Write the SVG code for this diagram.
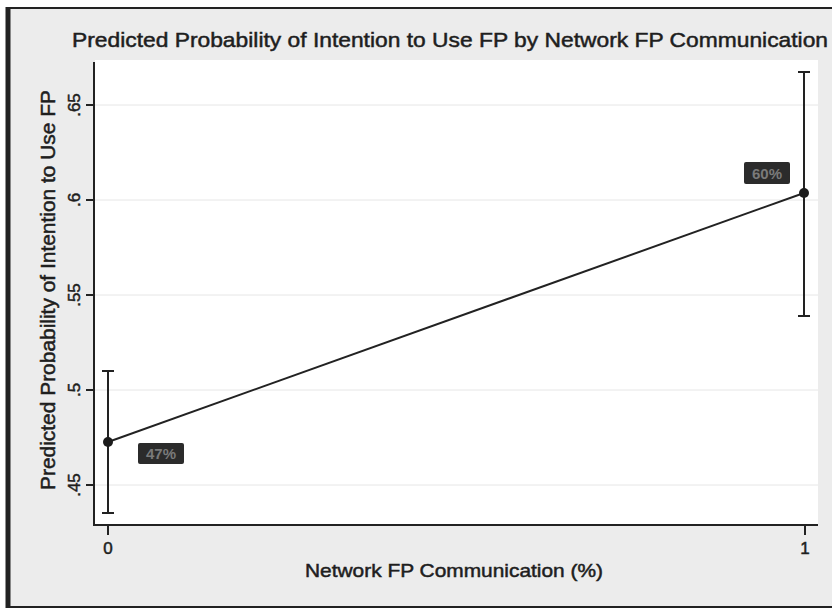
<svg xmlns="http://www.w3.org/2000/svg" width="832" height="611" viewBox="0 0 832 611">
  <style>
    .txt { font-family: "Liberation Sans", Arial, sans-serif; fill: #1e1e1e; stroke: #1e1e1e; stroke-width: 0.5; }
    .ax { stroke: #222; stroke-width: 2; fill: none; }
    .grid { stroke: #e6e6e6; stroke-width: 1; }
    .err { stroke: #222; stroke-width: 2; fill: none; }
    .pt { fill: #1c1c1c; }
    .lblbox { fill: #2b2b2b; }
    .lbl { font-family: "Liberation Sans", Arial, sans-serif; font-size: 15px; fill: #7a7a7a; font-weight: bold; }
  </style>
  <!-- background -->
  <rect x="0" y="0" width="832" height="611" fill="#ffffff"/>
  <rect x="8" y="8" width="824" height="599" fill="#ececec"/>
  <!-- frame -->
  <line x1="8" y1="8" x2="832" y2="8" stroke="#222" stroke-width="2"/>
  <line x1="8" y1="607" x2="832" y2="607" stroke="#222" stroke-width="2"/>
  <line x1="8" y1="7" x2="8" y2="608" stroke="#222" stroke-width="5"/>
  <!-- plot region -->
  <rect x="95" y="60" width="723" height="465" fill="#ffffff"/>
  <g id="gridlines">
    <line class="grid" x1="95" y1="105" x2="818" y2="105"/>
    <line class="grid" x1="95" y1="200" x2="818" y2="200"/>
    <line class="grid" x1="95" y1="295" x2="818" y2="295"/>
    <line class="grid" x1="95" y1="390" x2="818" y2="390"/>
    <line class="grid" x1="95" y1="485" x2="818" y2="485"/>
  </g>
  <!-- title -->
  <text class="txt" x="72" y="47" font-size="21" textLength="756" lengthAdjust="spacingAndGlyphs">Predicted Probability of Intention to Use FP by Network FP Communication</text>
  <!-- axes -->
  <g id="y-axis">
    <line class="ax" x1="94" y1="62" x2="94" y2="526"/>
    <line class="ax" x1="86" y1="105" x2="94" y2="105"/>
    <line class="ax" x1="86" y1="200" x2="94" y2="200"/>
    <line class="ax" x1="86" y1="295" x2="94" y2="295"/>
    <line class="ax" x1="86" y1="390" x2="94" y2="390"/>
    <line class="ax" x1="86" y1="485" x2="94" y2="485"/>
    <text class="txt" font-size="17" text-anchor="middle" transform="translate(80,105) rotate(-90)">.65</text>
    <text class="txt" font-size="17" text-anchor="middle" transform="translate(80,200) rotate(-90)">.6</text>
    <text class="txt" font-size="17" text-anchor="middle" transform="translate(80,295) rotate(-90)">.55</text>
    <text class="txt" font-size="17" text-anchor="middle" transform="translate(80,390) rotate(-90)">.5</text>
    <text class="txt" font-size="17" text-anchor="middle" transform="translate(80,485) rotate(-90)">.45</text>
    <text class="txt" font-size="20" text-anchor="middle" textLength="400" lengthAdjust="spacingAndGlyphs" transform="translate(55,290) rotate(-90)">Predicted Probability of Intention to Use FP</text>
  </g>
  <g id="x-axis">
    <line class="ax" x1="93" y1="525" x2="818" y2="525"/>
    <line class="ax" x1="108" y1="525" x2="108" y2="535"/>
    <line class="ax" x1="805" y1="525" x2="805" y2="535"/>
    <text class="txt" font-size="17" text-anchor="middle" x="108" y="554">0</text>
    <text class="txt" font-size="17" text-anchor="middle" x="805" y="554">1</text>
    <text class="txt" font-size="19" x="305" y="577" textLength="298" lengthAdjust="spacingAndGlyphs">Network FP Communication (%)</text>
  </g>
  <!-- connectors -->
  <g id="connectors">
    <line x1="108" y1="442" x2="804" y2="193" stroke="#222" stroke-width="2"/>
  </g>
  <!-- nodes -->
  <g id="point-0">
    <line class="err" x1="108" y1="371" x2="108" y2="513"/>
    <line class="err" x1="102" y1="371" x2="114" y2="371"/>
    <line class="err" x1="102" y1="513" x2="114" y2="513"/>
    <circle class="pt" cx="108" cy="442" r="5"/>
    <rect class="lblbox" x="138" y="443" width="46" height="21" rx="2"/>
    <text class="lbl" x="161" y="459" text-anchor="middle">47%</text>
  </g>
  <g id="point-1">
    <line class="err" x1="804" y1="72" x2="804" y2="316"/>
    <line class="err" x1="798" y1="72" x2="810" y2="72"/>
    <line class="err" x1="798" y1="316" x2="810" y2="316"/>
    <circle class="pt" cx="804" cy="193" r="5"/>
    <rect class="lblbox" x="744" y="162" width="46" height="22" rx="2"/>
    <text class="lbl" x="767" y="179" text-anchor="middle">60%</text>
  </g>
</svg>
